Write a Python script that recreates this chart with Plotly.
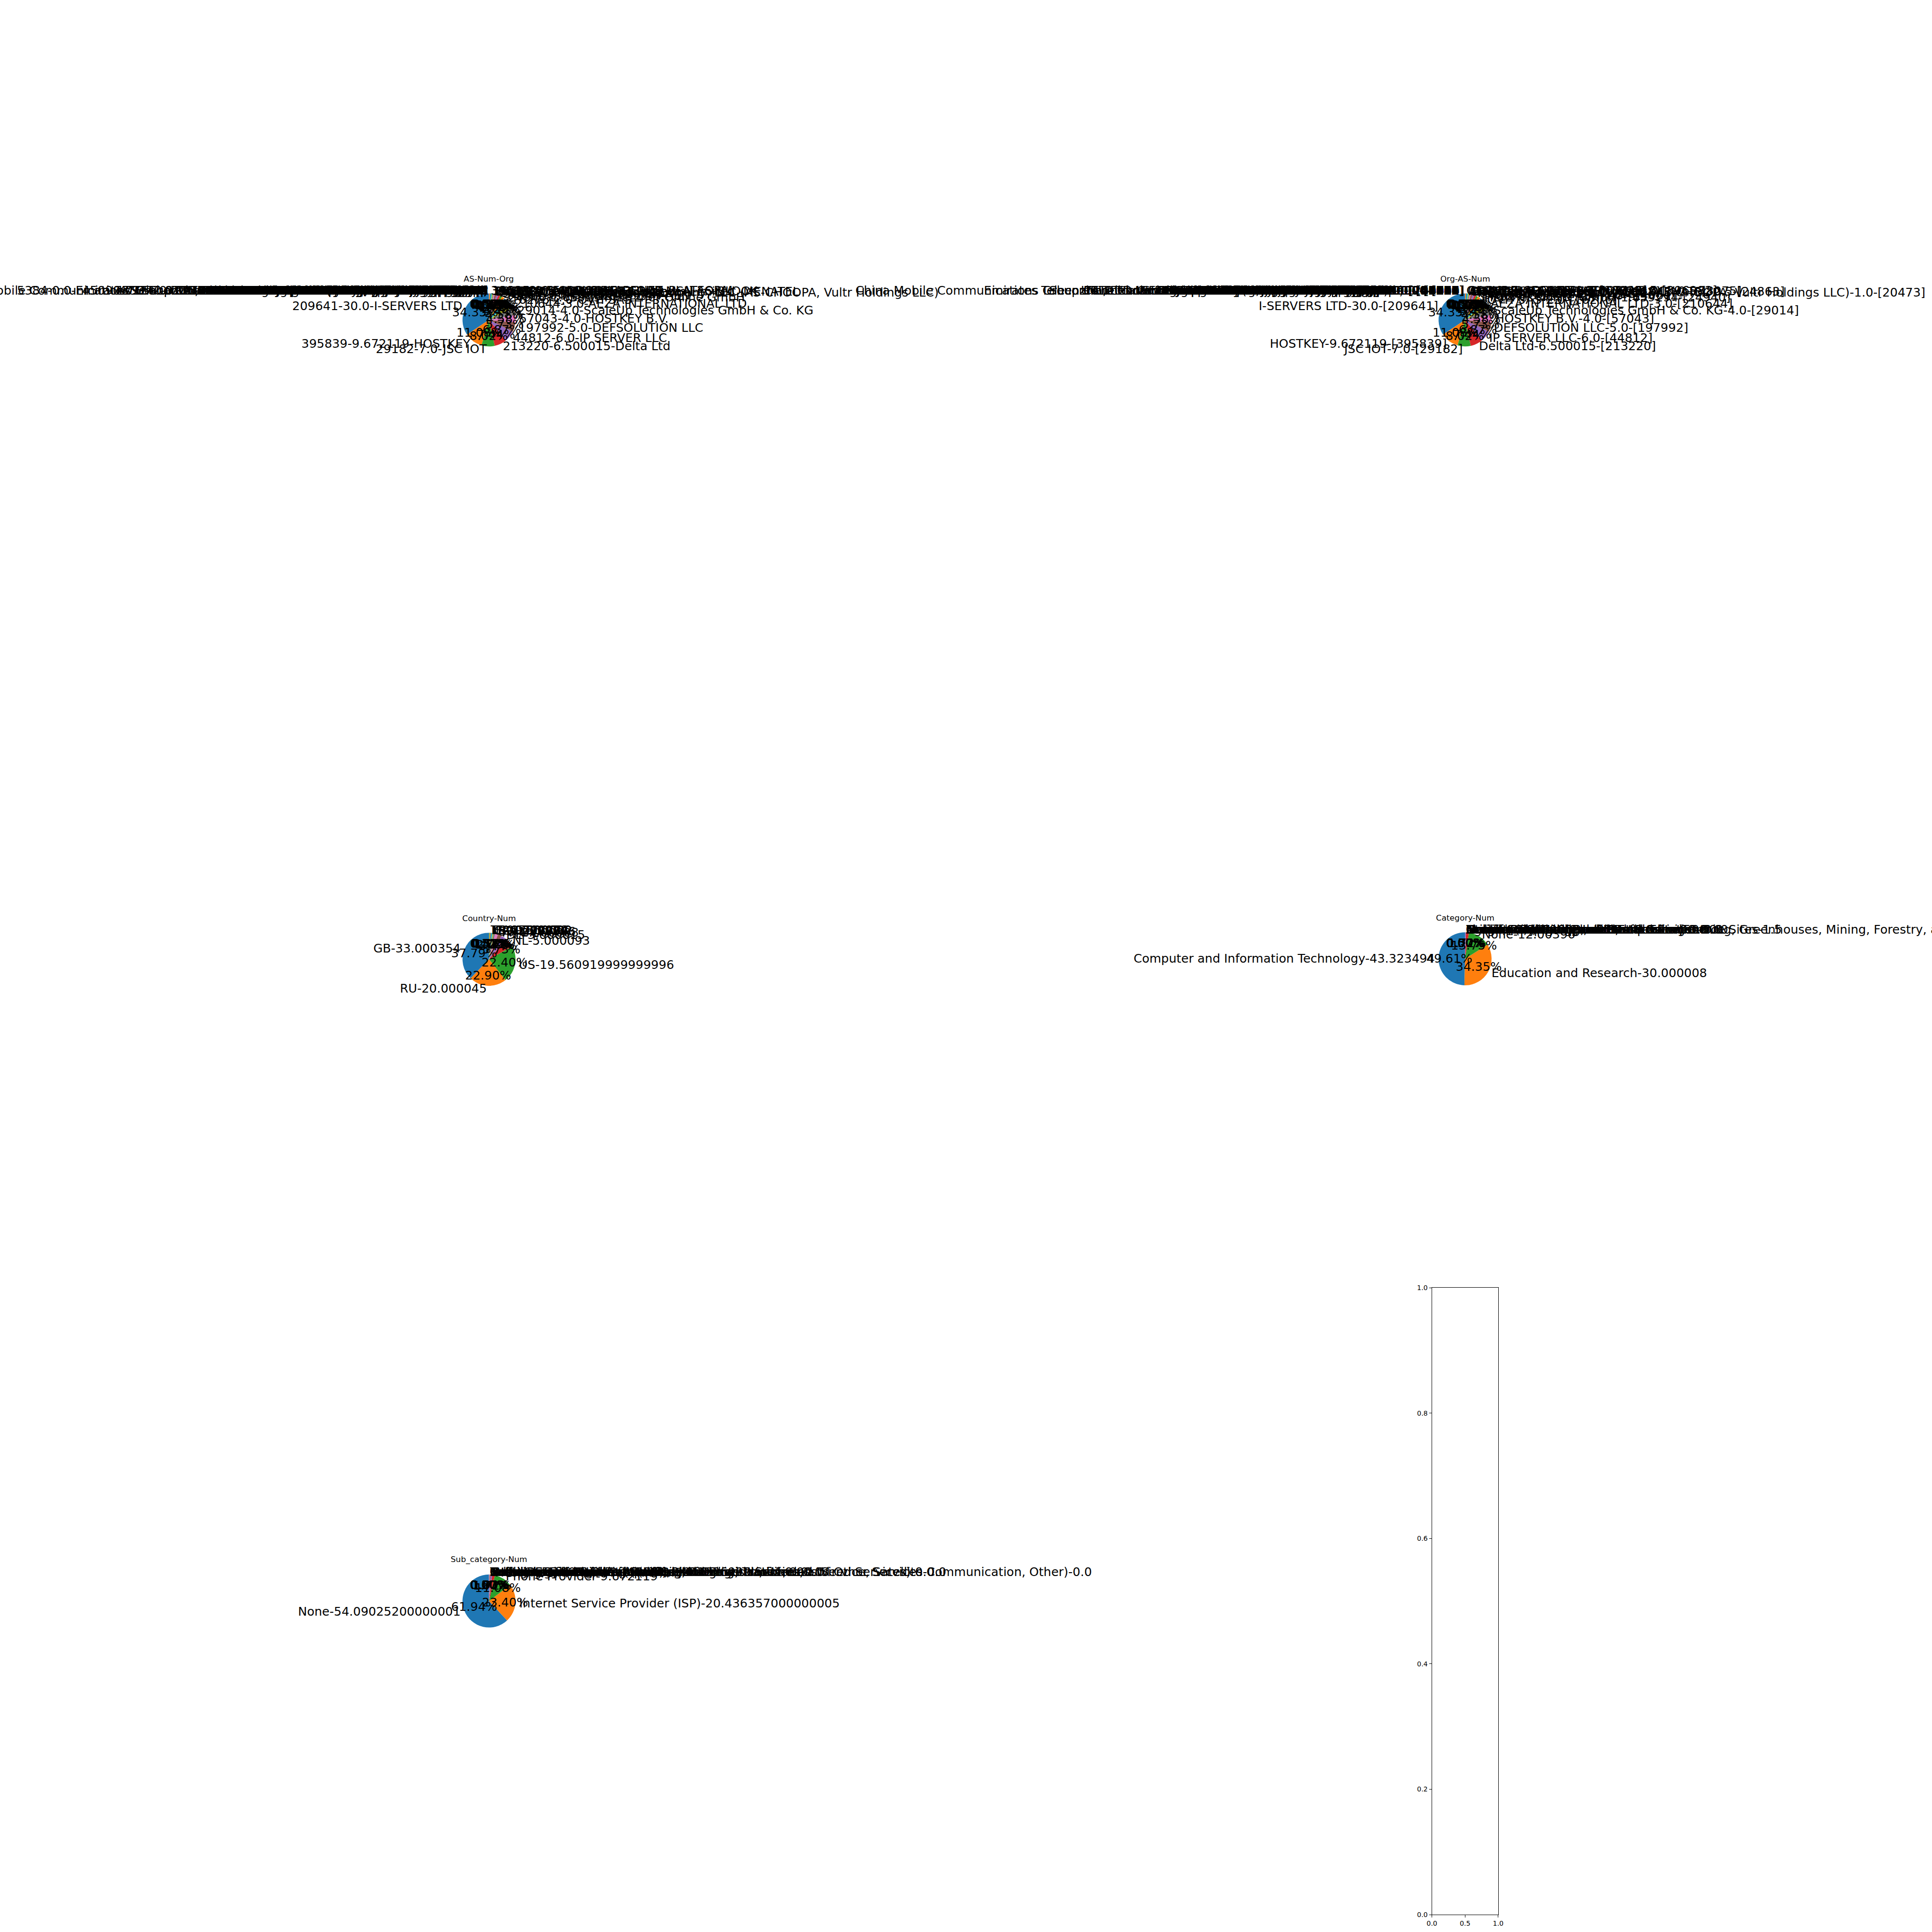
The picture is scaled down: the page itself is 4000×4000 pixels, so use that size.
import math
import numpy as np
import plotly.graph_objects as go

# ---------------------------------------------------------------- data
as_numbers = [209641, 395839, 29182, 213220, 44812, 197992, 57043, 29014, 210644,
              16276, 24940, 14061, 51167, 9009, 20473, 60068,
              24863, 8075, 15169, 16509, 13335, 396982,
              4134, 4837, 3462, 12389, 8359, 3216, 31034, 12876, 63949, 45090,
              37963, 135377, 206264, 58061, 49505, 9123, 202425, 211252, 208091,
              62904, 53667, 36352, 40021, 7922, 4766, 9829, 17676, 174, 6939, 3356,
              56630, 43350, 200651, 48693, 14618, 8560, 210558, 139659, 4808, 9318,
              34984, 45102, 132203, 55286, 197540, 25369, 215540, 9808,
              12714, 20485, 31133, 42610, 9002, 1299, 3320, 3215, 2856, 5089,
              701, 7018, 20115, 22773, 4713, 2516, 4760, 9498, 45609, 28573,
              18881, 3269, 12322, 6830, 33915, 1136, 8151, 7713, 17974, 4755,
              55836, 38266, 24560, 9121, 16135, 8551, 5384, 8452, 36935, 37457,
              29049, 25019]
as_values = [30.0, 9.672119, 7.0, 6.500015, 6.0, 5.0, 4.0, 4.0, 3.0,
             2.0, 1.659294, 1.5, 1.0, 1.0, 1.0, 1.0,
             0.5, 0.5, 0.5, 0.5, 0.5, 0.5,
             0.0, 0.0, 0.0, 0.0, 0.0, 0.0, 0.0, 0.0, 0.0, 0.0,
             0.0, 0.0, 0.0, 0.0, 0.0, 0.0, 0.0, 0.0, 0.0,
             0.0, 0.0, 0.0, 0.0, 0.0, 0.0, 0.0, 0.0, 0.0, 0.0, 0.0,
             0.0, 0.0, 0.0, 0.0, 0.0, 0.0, 0.0, 0.0, 0.0, 0.0,
             0.0, 0.0, 0.0, 0.0, 0.0, 0.0, 0.0, 0.0,
             0.0, 0.0, 0.0, 0.0, 0.0, 0.0, 0.0, 0.0, 0.0, 0.0,
             0.0, 0.0, 0.0, 0.0, 0.0, 0.0, 0.0, 0.0, 0.0, 0.0,
             0.0, 0.0, 0.0, 0.0, 0.0, 0.0, 0.0, 0.0, 0.0, 0.0,
             0.0, 0.0, 0.0, 0.0, 0.0, 0.0, 0.0, 0.0, 0.0, 0.0,
             0.0, 0.0]
as_orgs = ["I-SERVERS LTD", "HOSTKEY", "JSC IOT", "Delta Ltd", "IP SERVER LLC",
           "DEFSOLUTION LLC", "HOSTKEY B.V.", "ScaleUp Technologies GmbH & Co. KG",
           "AEZA INTERNATIONAL LTD",
           "OVH SAS", "Hetzner Online GmbH", "DIGITALOCEAN-ASN", "Contabo GmbH",
           "M247 Europe SRL", "The Constant Company, LLC (AS-CHOOPA, Vultr Holdings LLC)",
           "Datacamp Limited",
           "LINKdotNET Telecom Limited -MENATEL", "MICROSOFT-CORP-MSN-AS-BLOCK", "GOOGLE",
           "AMAZON-02", "CLOUDFLARENET", "GOOGLE-CLOUD-PLATFORM",
           "Chinanet", "CHINA UNICOM China169 Backbone", "Data Communication Business Group",
           "Rostelecom", "MTS PJSC", "PJSC Vimpelcom", "Aruba S.p.A.", "SCALEWAY S.A.S.",
           "Akamai Connected Cloud", "Shenzhen Tencent Computer Systems Company Limited",
           "Hangzhou Alibaba Advertising Co.,Ltd.", "UCLOUD INFORMATION TECHNOLOGY HK LIMITED",
           "Amarutu Technology Ltd", "Scalaxy B.V.", "JSC Selectel", "TimeWeb Ltd.",
           "IP Volume inc", "Delis LLC", "Xhost Internet Solutions Lp",
           "Eonix Corporation", "FranTech Solutions", "HostPapa", "Contabo Inc.",
           "Comcast Cable Communications, LLC", "Korea Telecom", "National Internet Backbone",
           "SoftBank Corp.", "Cogent Communications", "Hurricane Electric LLC",
           "Level 3 Parent, LLC", "Melbikomas UAB", "NForce Entertainment B.V.",
           "Flokinet Ltd", "Rices Privately owned enterprise", "AMAZON-AES", "IONOS SE",
           "1337 Services GmbH", "LUCID ACCESS SDN BHD",
           "China Unicom Beijing Province Network", "SK Broadband Co Ltd",
           "Superonline Iletisim Hizmetleri A.S.", "Alibaba US Technology Co., Ltd.",
           "Tencent Building, Kejizhongyi Avenue", "SERVER-MANIA", "netcup GmbH",
           "Hydra Communications Ltd", "GLOBAL CONNECTIVITY SOLUTIONS LLP",
           "China Mobile Communications Group Co., Ltd. Guangdong Mobile Communication Co.Ltd.",
           "TI-AS Net By Net Holding LLC", "Joint Stock Company TransTeleCom", "PJSC MegaFon",
           "PJSC Rostelecom North-West Branch", "RETN Limited", "Arelion Sweden AB",
           "Deutsche Telekom AG", "Orange S.A.", "British Telecommunications PLC",
           "Virgin Media Limited", "Verizon Business (UUNET Technologies, Inc.)",
           "AT&T Services, Inc.", "Charter Communications LLC", "Cox Communications Inc.",
           "NTT Communications Corporation", "KDDI CORPORATION", "HKT Limited",
           "BHARTI Airtel Ltd.", "Bharti Airtel Ltd. AS for GPRS Service",
           "Claro NXT Telecomunicacoes Ltda", "TELEFONICA BRASIL S.A", "Telecom Italia S.p.A.",
           "Free SAS", "Liberty Global B.V.", "Vodafone Libertel B.V.", "KPN B.V.",
           "UNINET S.A. de C.V.", "PT Telekomunikasi Indonesia",
           "PT Telekomunikasi Indonesia (TELKOMNET-AS2-AP)",
           "TATA Communications formerly VSNL is Leading ISP", "Reliance Jio Infocomm Limited",
           "Vodafone Idea Ltd", "Bharti Airtel Ltd., Telemedia Services",
           "Turk Telekomunikasyon Anonim Sirketi", "Turkcell Iletisim Hizmetleri A.S.",
           "Bezeq International Ltd.",
           "Emirates Telecommunications Group Company (Etisalat Group) PJSC", "TE Data",
           "Vodafone Egypt", "Telkom SA Ltd.", "Delta Telecom Ltd.", "Saudi Telecom Company JSC"]

country_codes = ["GB", "RU", "US", "NL", "DE", "FR", "SE", "FI", "CZ", "UA", "IT", "ES", "TR"]
country_values = [33.000354, 20.000045, 19.560919999999996, 5.000093, 3.000015, 2.000008,
                  1.500006, 1.000004, 0.500002, 0.500002, 0.500002, 0.500002, 0.269974]

category_names = ["Computer and Information Technology", "Education and Research", "None",
                  "Retail Stores, Wholesale, and E-commerce Sites", "Finance and Insurance",
                  "Service",
                  "Agriculture, Mining, and Refineries (Farming, Greenhouses, Mining, Forestry, and Animal Farming)",
                  "Community Groups and Nonprofits", "Construction and Real Estate",
                  "Museums, Libraries, and Entertainment", "Utilities (Excluding Internet Service)",
                  "Health Care Services", "Travel and Accommodation",
                  "Freight, Shipment, and Postal Services", "Government and Public Administration",
                  "Manufacturing", "Media, Publishing, and Broadcasting", "Unknown"]
category_values = [43.323494, 30.000008, 12.00396, 1.5, 0.5, 0.003965,
                   0.0, 0.0, 0.0, 0.0, 0.0, 0.0, 0.0, 0.0, 0.0, 0.0, 0.0, 0.0]

subcategory_names = ["None", "Internet Service Provider (ISP)", "Phone Provider",
                     "Hosting and Cloud Provider", "Software Development", "Data Center",
                     "Technology Consulting Services",
                     "Telecommunications (Wired Service Provider, Wireless Service, Satellite Communication, Other)",
                     "Internet Exchange Point (IXP)",
                     "Network Infrastructure (Routing, Peering, Transit, and Wired Services)",
                     "Computer and Network Security",
                     "Search Engines, Social Media, and Online Platforms",
                     "Colleges, Universities, and Research Institutions",
                     "Software as a Service (SaaS), Platform as a Service, and Other Services",
                     "Email Provider", "Satellite Communication",
                     "Government, Defense, and Public Administration",
                     "Banks, Credit Card Companies, Mortgage Providers"]
subcategory_values = [54.09025200000001, 20.436357000000005, 9.672119, 1.5, 0.9, 0.5, 0.232699,
                      0.0, 0.0, 0.0, 0.0, 0.0, 0.0, 0.0, 0.0, 0.0, 0.0, 0.0]

chart_titles = ["AS-Num-Org", "Org-AS-Num", "Country-Num", "Category-Num", "Sub_category-Num"]

# ---------------------------------------------------------------- styling / layout
FIG = 4000
TAB10 = ['#1f77b4', '#ff7f0e', '#2ca02c', '#d62728', '#9467bd',
         '#8c564b', '#e377c2', '#7f7f7f', '#bcbd22', '#17becf']
FONT = "DejaVu Sans"
LABEL_PX = 25
TITLE_PX = 16.67
TICK_PX = 13.9
R = 55.2
centers = [(1007, 657), (3039, 657), (1007, 1986), (3039, 1985), (1007, 3320)]


def num(v):
    return str(float(v))


pies = [
    ([f"{a}-{num(v)}-{o}" for a, v, o in zip(as_numbers, as_values, as_orgs)], as_values),
    ([f"{o}-{num(v)}-[{a}]" for a, v, o in zip(as_numbers, as_values, as_orgs)], as_values),
    ([f"{c}-{num(v)}" for c, v in zip(country_codes, country_values)], country_values),
    ([f"{c}-{num(v)}" for c, v in zip(category_names, category_values)], category_values),
    ([f"{c}-{num(v)}" for c, v in zip(subcategory_names, subcategory_values)], subcategory_values),
]

fig = go.Figure()
annotations = []


def px2paper(x, y):
    return x / FIG, 1 - y / FIG


def wedge_mid_angles(values):
    x = np.asarray(values, dtype=float)
    sx = x.sum()
    fr = x / sx if sx > 1 else x
    theta1 = 90 / 360
    mids = []
    for frac in fr:
        theta2 = theta1 + frac
        mids.append(2 * np.pi * 0.5 * (theta1 + theta2))
        theta1 = theta2
    return fr, mids


for (labels, values), (cx, cy), title in zip(pies, centers, chart_titles):
    colors = [TAB10[i % 10] for i in range(len(values))]
    x0, y1 = px2paper(cx - R, cy - R)
    x1, y0 = px2paper(cx + R, cy + R)
    fr, mids = wedge_mid_angles(values)
    fig.add_trace(go.Pie(
        values=values, labels=labels, marker=dict(colors=colors, line=dict(width=0)),
        sort=False, direction="counterclockwise", rotation=-360.0 * float(fr[0]),
        textinfo="none", hoverinfo="label+value", showlegend=False,
        domain=dict(x=[x0, x1], y=[y0, y1]),
    ))
    for thetam, lab in zip(mids, labels):
        xt = 1.1 * R * math.cos(thetam)
        yt = 1.1 * R * math.sin(thetam)
        px, py = px2paper(cx + xt, cy - yt)
        annotations.append(dict(x=px, y=py, xref="paper", yref="paper", text=lab,
                                showarrow=False, xanchor="left" if xt > 0 else "right",
                                yanchor="middle",
                                font=dict(family=FONT, size=LABEL_PX, color="black")))
    for thetam, frac in zip(mids, fr):
        xt = 0.6 * R * math.cos(thetam)
        yt = 0.6 * R * math.sin(thetam)
        px, py = px2paper(cx + xt, cy - yt)
        annotations.append(dict(x=px, y=py, xref="paper", yref="paper",
                                text="%1.2f%%" % (100 * frac),
                                showarrow=False, xanchor="center", yanchor="middle",
                                font=dict(family=FONT, size=LABEL_PX, color="black")))
    tx, ty = px2paper(cx, cy - R * 1.25 - 8.3 + 3.5)
    annotations.append(dict(x=tx, y=ty, xref="paper", yref="paper", text=title,
                            showarrow=False, xanchor="center", yanchor="bottom",
                            font=dict(family=FONT, size=TITLE_PX, color="black")))

# empty sixth axes
fig.add_trace(go.Scatter(x=[], y=[], xaxis="x", yaxis="y", showlegend=False))
ax_common = dict(showline=True, mirror=True, linecolor="black", linewidth=1.1,
                 ticks="outside", ticklen=4.9, tickwidth=1.1, tickcolor="black",
                 showgrid=False, zeroline=False, range=[0, 1], fixedrange=True,
                 tickfont=dict(family=FONT, size=TICK_PX, color="black"),
                 tickformat=".1f")
fig.update_layout(
    width=FIG, height=FIG, margin=dict(l=0, r=0, t=0, b=0),
    paper_bgcolor="white", plot_bgcolor="white",
    xaxis=dict(domain=[2970 / FIG, 3108 / FIG], tickvals=[0, 0.5, 1.0], **ax_common),
    yaxis=dict(domain=[1 - 3972 / FIG, 1 - 2669 / FIG],
               tickvals=[0, 0.2, 0.4, 0.6, 0.8, 1.0], **ax_common),
    annotations=annotations,
    font=dict(family=FONT),
)

fig.write_html("out.html")
